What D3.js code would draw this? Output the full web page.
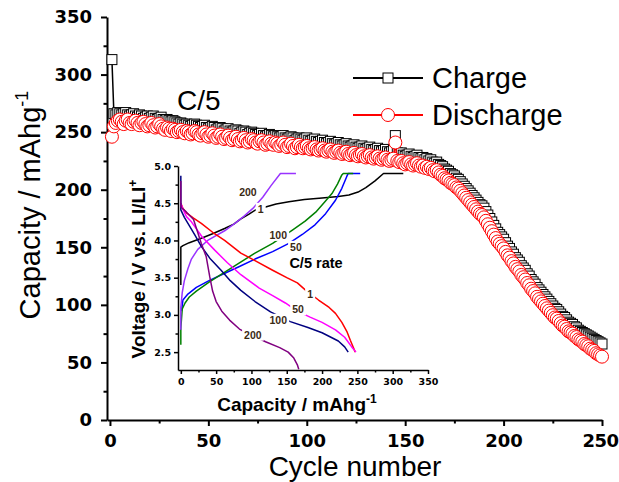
<!DOCTYPE html>
<html><head><meta charset="utf-8">
<script src="https://cdn.jsdelivr.net/npm/d3@7"></script>
<style>body{margin:0;background:#fff}svg{display:block}</style>
</head><body><svg id="c" width="619" height="482"></svg>
<script>
// ---------- DATA ----------
const chargeCap = [
313,266,265,267,266,265,266,267,265,264,
265,266,264,263,265,264,262,263,264,262,
263,264,262,261,262,263,261,260,261,260,
259,260,259,258,257,258,257,256,257,256,
255,256,257,256,255,254,255,256,254,253,
254,255,254,252,253,254,253,251,252,253,
251,250,251,252,251,249,250,251,250,248,
249,250,249,248,247,248,249,247,246,247,
248,247,246,247,246,245,246,247,245,244,
245,246,245,243,244,245,244,243,244,245,
243,242,243,244,242,241,242,243,241,240,
241,242,240,239,240,241,239,238,239,240,
238,237,238,239,237,236,237,238,236,235,
236,237,235,234,235,236,234,233,234,235,
233,232,233,234,247,232,231,232,230,229,
230,231,229,228,229,230,228,227,228,226,
227,225,226,224,223,224,222,221,220,218,
217,216,214,213,212,210,209,207,205,203,
201,199,197,195,193,191,189,187,186,184,
181,178,175,172,169,166,163,161,159,157,
154,151,149,146,144,141,139,137,134,132,
130,127,125,122,120,118,115,113,111,109,
107,105,103,101,99,97,96,94,92,90,
89,87,85,84,83,81,80,78,77,76,
75,74,73,72,71,70,69,68,67,66];
const dischargeCap = [
246,255,258,260,261,259,257,260,261,258,
257,259,260,258,256,258,259,257,255,256,
258,256,254,255,257,255,253,252,254,253,
251,253,252,250,251,252,250,249,251,250,
248,249,251,250,248,247,249,250,248,246,
247,249,247,245,246,248,246,244,245,247,
245,243,244,246,244,242,243,245,243,241,
242,244,243,241,240,242,243,241,239,240,
242,240,239,241,240,238,239,241,239,237,
238,240,238,236,237,239,237,236,237,238,
236,235,236,237,235,234,235,236,234,233,
234,235,233,232,233,234,232,231,232,233,
231,230,231,232,230,229,230,231,229,228,
229,230,228,227,228,229,227,226,227,228,
226,225,226,227,241,225,224,225,223,222,
223,224,222,221,222,223,221,220,221,219,
220,218,219,217,216,217,215,213,212,210,
209,208,206,205,204,202,201,199,197,195,
193,191,189,187,185,183,181,179,178,176,
173,170,167,164,161,158,155,153,151,149,
146,143,141,138,136,133,131,129,126,124,
122,119,117,114,112,110,107,105,103,101,
99,97,95,93,91,89,88,86,84,82,
81,79,77,76,75,73,72,70,69,68,
66,65,64,62,61,60,58,57,56,55];
const cycles = d3.range(1, chargeCap.length + 1);
const xTicks = [0,50,100,150,200,250];
const yTicks = [0,50,100,150,200,250,300,350];
const xMinor = [25,75,125,175,225];
const yMinor = [25,75,125,175,225,275,325];

// Inset: voltage profiles [capacity mAh/g, voltage V]
const chg1 = [[0,3.40],[0,3.91],[3,3.93],[12,3.97],[29,4.03],[45,4.09],[62,4.16],[75,4.22],[85,4.29],[96,4.35],[106,4.41],[120,4.45],[135,4.49],[153,4.52],[175,4.55],[200,4.57],[223,4.59],[238,4.61],[251,4.65],[262,4.71],[275,4.80],[287,4.90],[315,4.90]];
const chg50 = [[1,3.05],[3,3.20],[10,3.28],[22,3.37],[40,3.46],[60,3.55],[83,3.65],[105,3.75],[130,3.85],[153,3.96],[172,4.08],[190,4.21],[205,4.36],[219,4.54],[228,4.70],[235,4.86],[237,4.90],[254,4.90]];
const chg100 = [[0,2.60],[0,2.82],[2,3.08],[6,3.16],[12,3.24],[22,3.32],[40,3.44],[60,3.56],[83,3.70],[105,3.83],[130,3.96],[158,4.14],[176,4.26],[191,4.38],[204,4.52],[214,4.63],[222,4.76],[228,4.88],[230,4.90],[244,4.90]];
const chg200 = [[0,2.80],[0,3.10],[2,3.30],[5,3.46],[10,3.62],[15,3.75],[24,3.88],[38,4.00],[62,4.13],[78,4.24],[90,4.33],[102,4.43],[116,4.58],[128,4.74],[141,4.90],[163,4.90]];
const dis1 = [[0,4.50],[3,4.43],[8,4.37],[18,4.30],[29,4.23],[45,4.11],[62,4.00],[85,3.83],[105,3.73],[130,3.60],[150,3.50],[165,3.43],[177,3.33],[195,3.20],[210,3.10],[219,3.02],[228,2.90],[235,2.78],[240,2.66],[244,2.57],[247,2.50]];
const dis50 = [[0,4.50],[3,4.42],[8,4.32],[15,4.25],[30,4.05],[48,3.87],[66,3.70],[85,3.54],[111,3.36],[130,3.26],[148,3.16],[165,3.05],[183,2.97],[200,2.90],[219,2.80],[232,2.70],[242,2.57],[248,2.50]];
const dis100 = [[0,4.87],[0,4.41],[5,4.31],[12,4.20],[20,4.07],[29,3.92],[42,3.75],[57,3.60],[70,3.46],[85,3.33],[105,3.18],[127,3.04],[155,2.91],[180,2.83],[200,2.76],[223,2.65],[232,2.57],[237,2.50]];
const dis200 = [[0,4.80],[0,4.45],[8,4.38],[18,4.28],[29,3.96],[36,3.78],[41,3.51],[45,3.32],[50,3.18],[58,3.05],[69,2.93],[83,2.81],[87,2.79],[120,2.64],[140,2.56],[152,2.50],[160,2.42],[165,2.33],[167,2.27]];
const insetXTicks = [0,50,100,150,200,250,300,350];
const insetYTicks = [2.5,3.0,3.5,4.0,4.5,5.0];
const insetXMinor = [25,75,125,175,225,275,325];
const insetYMinor = [2.75,3.25,3.75,4.25,4.75];
const curveLabels = [
  {t:"200", x:95, v:4.64}, {t:"1", x:113, v:4.42}, {t:"100", x:138, v:4.07}, {t:"50", x:163, v:3.91},
  {t:"1", x:183, v:3.28}, {t:"50", x:166, v:3.07}, {t:"100", x:138, v:2.93}, {t:"200", x:102, v:2.73}
];

// ---------- DRAW ----------
const svg = d3.select("#c");
svg.append("rect").attr("width",619).attr("height",482).attr("fill","#fff");
const ARIAL = "'Liberation Sans', Arial, sans-serif";
const DEJA = "'DejaVu Sans', Verdana, sans-serif";

const x = d3.scaleLinear().domain([-1.5, 250]).range([107, 602]);
const y = d3.scaleLinear().domain([0, 350]).range([420, 17]);

function styleAxis(g, sw, font, size) {
  g.select(".domain").attr("stroke", "#000").attr("stroke-width", sw);
  g.selectAll(".tick line").attr("stroke", "#000").attr("stroke-width", sw);
  g.selectAll("text").attr("font-family", font).attr("font-size", size)
    .attr("font-weight", "bold").attr("fill", "#000");
}

// main axes
const gx = svg.append("g").attr("transform", "translate(0,420)")
  .call(d3.axisBottom(x).tickValues(xTicks).tickSize(6).tickSizeOuter(0).tickPadding(8).tickFormat(d3.format("d")));
styleAxis(gx, 2, DEJA, 18);
gx.selectAll(".tick text").filter(d => d === 250).attr("dx", -2).attr("letter-spacing", -0.5);
const gxm = svg.append("g").attr("transform", "translate(0,420)")
  .call(d3.axisBottom(x).tickValues(xMinor).tickSize(3.5).tickSizeOuter(0).tickFormat(""));
gxm.select(".domain").remove();
gxm.selectAll(".tick line").attr("stroke", "#000").attr("stroke-width", 2);

const gy = svg.append("g").attr("transform", "translate(107,0)")
  .call(d3.axisLeft(y).tickValues(yTicks).tickSize(6).tickSizeOuter(0).tickPadding(9).tickFormat(d3.format("d")));
styleAxis(gy, 2, DEJA, 18);
const gym = svg.append("g").attr("transform", "translate(107,0)")
  .call(d3.axisLeft(y).tickValues(yMinor).tickSize(3.5).tickSizeOuter(0).tickFormat(""));
gym.select(".domain").remove();
gym.selectAll(".tick line").attr("stroke", "#000").attr("stroke-width", 2);

// axis titles
svg.append("text").attr("x", 355).attr("y", 476).attr("text-anchor", "middle")
  .attr("font-family", ARIAL).attr("font-size", 28).text("Cycle number");
const yt = svg.append("text").attr("transform", "translate(40,205) rotate(-90)")
  .attr("text-anchor", "middle").attr("font-family", ARIAL).attr("font-size", 29);
yt.append("tspan").text("Capacity / mAhg");
yt.append("tspan").attr("font-size", 18).attr("dy", -12).text("-1");

svg.append("text").attr("x", 177).attr("y", 110).attr("font-family", ARIAL)
  .attr("font-size", 28).text("C/5");

// main data
const chargeData = cycles.map((c, i) => ({c, v: chargeCap[i]}));
const dischargeData = cycles.map((c, i) => ({c, v: dischargeCap[i]}));
const line = d3.line().x(d => x(d.c)).y(d => y(d.v));

svg.append("path").datum(chargeData).attr("d", line).attr("fill", "none")
  .attr("stroke", "#000").attr("stroke-width", 1.5);
svg.append("g").selectAll("rect").data(chargeData).join("rect")
  .attr("x", d => x(d.c) - 5).attr("y", d => y(d.v) - 5).attr("width", 10).attr("height", 10)
  .attr("fill", "#fff").attr("stroke", "#000").attr("stroke-width", 1);
svg.append("path").datum(dischargeData).attr("d", line).attr("fill", "none")
  .attr("stroke", "#f00").attr("stroke-width", 1.5);
svg.append("g").selectAll("circle").data(dischargeData).join("circle")
  .attr("cx", d => x(d.c)).attr("cy", d => y(d.v)).attr("r", 6.5)
  .attr("fill", "#fff").attr("stroke", "#f00").attr("stroke-width", 1);

// legend
const lg = svg.append("g");
lg.append("line").attr("x1", 353).attr("x2", 423).attr("y1", 78).attr("y2", 78).attr("stroke", "#000").attr("stroke-width", 2);
lg.append("rect").attr("x", 383).attr("y", 73).attr("width", 10).attr("height", 10).attr("fill", "#fff").attr("stroke", "#000");
lg.append("text").attr("x", 432).attr("y", 88).attr("font-family", ARIAL).attr("font-size", 29).text("Charge");
lg.append("line").attr("x1", 353).attr("x2", 423).attr("y1", 115).attr("y2", 115).attr("stroke", "#f00").attr("stroke-width", 2);
lg.append("circle").attr("cx", 388).attr("cy", 115).attr("r", 6.5).attr("fill", "#fff").attr("stroke", "#f00");
lg.append("text").attr("x", 432).attr("y", 125).attr("font-family", ARIAL).attr("font-size", 29).text("Discharge");

// ---------- INSET ----------
const ix = d3.scaleLinear().domain([-4, 350]).range([178, 428]);
const iy = d3.scaleLinear().domain([2.26, 5.0]).range([370, 166]);

const ig = svg.append("g");
const igx = ig.append("g").attr("transform", "translate(0,370)")
  .call(d3.axisBottom(ix).tickValues(insetXTicks).tickSize(4).tickSizeOuter(0).tickPadding(4).tickFormat(d3.format("d")));
styleAxis(igx, 1.5, DEJA, 9.5);
const igxm = ig.append("g").attr("transform", "translate(0,370)")
  .call(d3.axisBottom(ix).tickValues(insetXMinor).tickSize(2.5).tickSizeOuter(0).tickFormat(""));
igxm.select(".domain").remove();
igxm.selectAll(".tick line").attr("stroke", "#000").attr("stroke-width", 1.5);
const igy = ig.append("g").attr("transform", "translate(178,0)")
  .call(d3.axisLeft(iy).tickValues(insetYTicks).tickSize(4).tickSizeOuter(0).tickPadding(3).tickFormat(d3.format(".1f")));
styleAxis(igy, 1.5, DEJA, 9.5);
const igym = ig.append("g").attr("transform", "translate(178,0)")
  .call(d3.axisLeft(iy).tickValues(insetYMinor).tickSize(2.5).tickSizeOuter(0).tickFormat(""));
igym.select(".domain").remove();
igym.selectAll(".tick line").attr("stroke", "#000").attr("stroke-width", 1.5);

const iline2 = d3.line().x(d => ix(d[0])).y(d => iy(d[1]));
const curves = [
  {d: chg1, c: "#000000"}, {d: chg50, c: "#0000ff"}, {d: chg100, c: "#008000"}, {d: chg200, c: "#9933ff"},
  {d: dis1, c: "#ff0000"}, {d: dis50, c: "#ff00ff"}, {d: dis100, c: "#000080"}, {d: dis200, c: "#800080"}
];
ig.append("g").selectAll("path").data(curves).join("path")
  .attr("d", d => iline2(d.d)).attr("fill", "none").attr("stroke", d => d.c).attr("stroke-width", 1.5)
  .attr("stroke-linejoin", "round");

// curve labels with white boxes
const lblG = ig.append("g");
curveLabels.forEach(l => {
  const t = lblG.append("text").attr("x", ix(l.x)).attr("y", iy(l.v)).attr("text-anchor", "middle")
    .attr("dy", "0.35em").attr("font-family", ARIAL).attr("font-weight", "bold").attr("font-size", 10.5)
    .attr("fill", "#3a2a14").text(l.t);
  const bb = t.node().getBBox();
  lblG.insert("rect", () => t.node()).attr("x", bb.x - 2).attr("y", bb.y).attr("width", bb.width + 4)
    .attr("height", bb.height).attr("fill", "#fff");
});
ig.append("text").attr("x", 316).attr("y", 268).attr("text-anchor", "middle").attr("font-family", ARIAL)
  .attr("font-weight", "bold").attr("font-size", 14.5).text("C/5 rate");

// inset titles
ig.append("text").attr("x", 297).attr("y", 411).attr("text-anchor", "middle").attr("font-family", ARIAL)
  .attr("font-weight", "bold").attr("font-size", 19)
  .call(t => { t.append("tspan").text("Capacity / mAhg"); t.append("tspan").attr("font-size", 12).attr("dy", -8).text("-1"); });
ig.append("text").attr("transform", "translate(145,269) rotate(-90)").attr("text-anchor", "middle")
  .attr("font-family", ARIAL).attr("font-weight", "bold").attr("font-size", 19)
  .call(t => { t.append("tspan").text("Voltage / V vs. LI/LI"); t.append("tspan").attr("font-size", 12).attr("dy", -8).text("+"); });
</script>
</body></html>
